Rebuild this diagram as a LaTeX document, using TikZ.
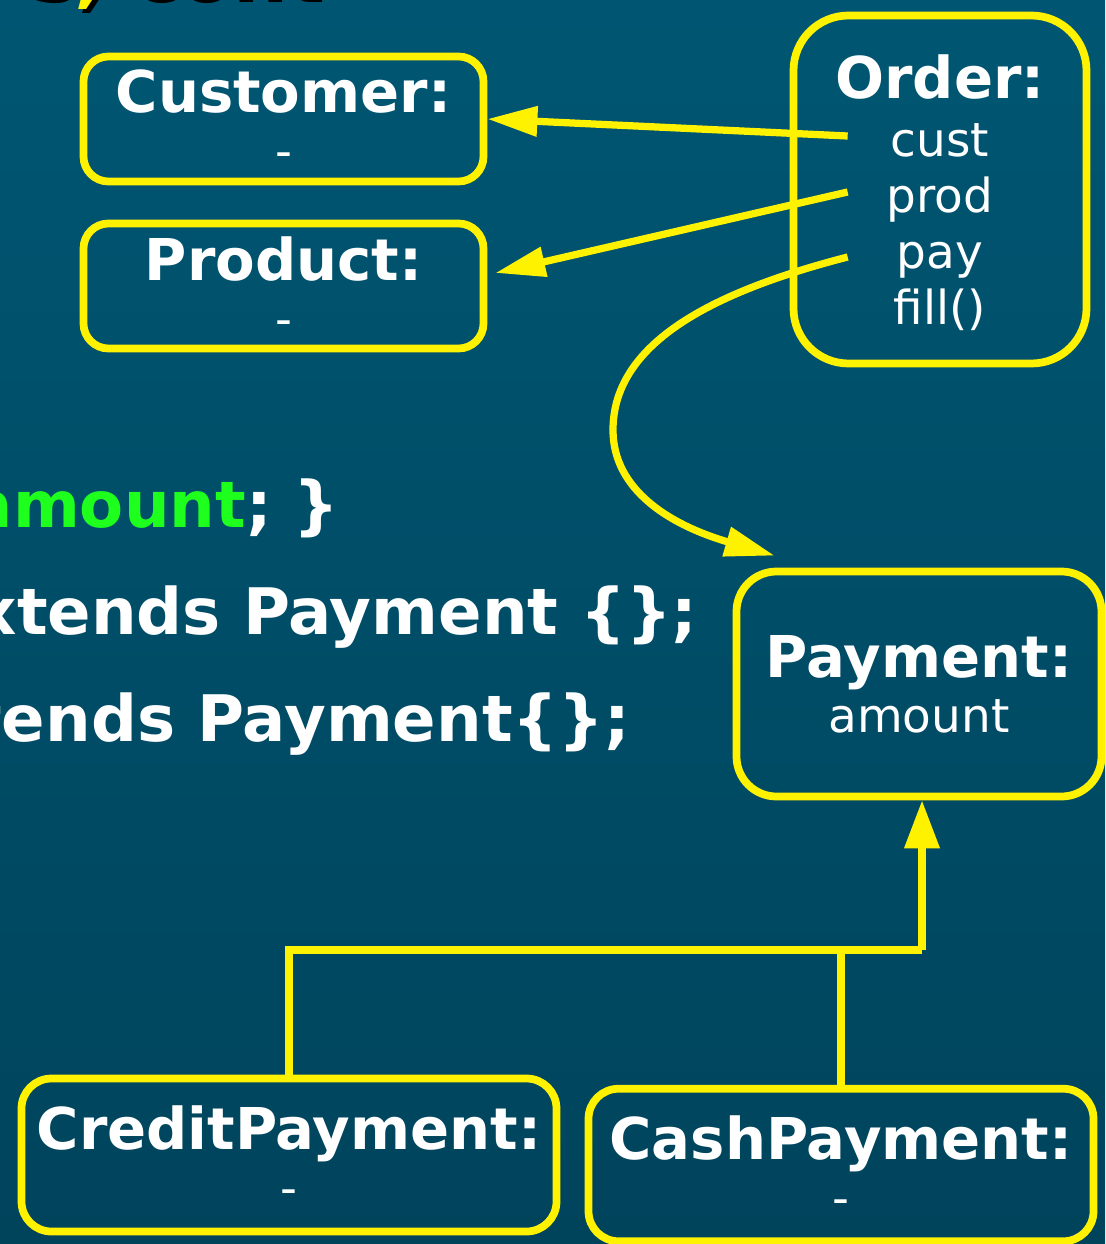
\documentclass[tikz,border=0pt]{standalone}
\usepackage{fontspec}
\setmainfont{DejaVu Sans}
\usetikzlibrary{arrows.meta,positioning}
\definecolor{slidebg}{RGB}{0,86,114}
\definecolor{slidebgdark}{RGB}{0,68,92}
\definecolor{codegreen}{RGB}{30,255,30}
\newcommand{\clsname}[1]{{\bfseries\fontsize{32.8}{31.3}\selectfont #1}}
\tikzset{
  clsbox/.style={draw=yellow, line width=0.155cm, rounded corners=0.5cm, text=white, align=center, inner sep=0pt, font=\fontsize{26.7}{31.3}\selectfont},
  field/.style={text=white, anchor=base, inner sep=0pt, minimum width=3.68cm, text height=0.8cm, text depth=0pt, font=\fontsize{26.7}{31.3}\selectfont},
  codeline/.style={text=white, anchor=base east, inner sep=0pt, font=\bfseries\fontsize{36.5}{40}\selectfont},
  slidetitle/.style={anchor=base west, inner sep=0pt, font=\bfseries\fontsize{44}{48}\selectfont},
  link/.style={draw=yellow, line width=0.145cm},
  arrow/.style={link, -{Triangle[length=1cm, width=0.58cm]}},
  isarrow/.style={link, -{Triangle[length=0.96cm, width=0.68cm]}}
}

\begin{document}
\begin{tikzpicture}
  \useasboundingbox (0,0) rectangle (22.1,-24.88);
  \clip (0,0) rectangle (22.1,-24.88);
  \shade[top color=slidebg, bottom color=slidebgdark] (0,0) rectangle (22.1,-24.88);

  % slide title, cut off at the top
  \node[slidetitle, text=black] (titleshadow) at (0.64,-0.05) {s, cont};
  \node[slidetitle, text=yellow] (title) at (0.56,0.03) {s, cont};

  % code behind the diagram
  \node[codeline] (code1) at (6.8,-10.54) {\textcolor{codegreen}{amount}; \}};
  \node[codeline] (code2) at (13.96,-12.68) {extends Payment \{\};};
  \node[codeline] (code3) at (12.6,-14.82) {extends Payment\{\};};

  % objects
  \node[clsbox, minimum width=8cm, minimum height=2.5cm] (customer) at (5.67,-2.38) {\clsname{Customer:}\\-};
  \node[clsbox, minimum width=8cm, minimum height=2.5cm] (product) at (5.67,-5.72) {\clsname{Product:}\\-};
  \node[clsbox, rounded corners=1.1cm, minimum width=5.86cm, minimum height=6.96cm] (order) at (18.8,-3.79) {};
  \node[anchor=base, text=white, inner sep=0pt] (ordername) at (18.8,-1.96) {\clsname{Order:}};
  \node[field] (cust) at (18.8,-3.12) {cust};
  \node[field] (prod) at (18.8,-4.24) {prod};
  \node[field] (pay) at (18.8,-5.36) {pay};
  \node[field] (fill) at (18.8,-6.48) {fill()};
  \node[clsbox, rounded corners=0.8cm, minimum width=7.3cm, minimum height=4.5cm] (payment) at (18.38,-13.68) {\clsname{Payment:}\\amount};
  \node[clsbox, rounded corners=0.6cm, minimum width=10.7cm, minimum height=3.06cm] (credit) at (5.78,-23.1) {\clsname{CreditPayment:}\\-};
  \node[clsbox, rounded corners=0.6cm, minimum width=10.1cm, minimum height=3.05cm] (cash) at (16.82,-23.3) {\clsname{CashPayment:}\\-};

  % references
  \draw[arrow] (cust.west) -- (customer.east);
  \draw[arrow] (prod.west) -- ([xshift=0.16cm,yshift=0.26cm]product.east);
  \draw[arrow] ([yshift=-0.18cm]pay.west) .. controls (14.4,-5.8) and (12.26,-6.8) .. (12.26,-8.6)
    .. controls (12.26,-9.8) and (13.4,-10.5) .. ([xshift=0.84cm,yshift=0.24cm]payment.north west);

  % inheritance
  \coordinate (joint) at (18.44,-19);
  \draw[link] (credit.north) |- (joint);
  \draw[link] (cash.north) -- (cash.north |- joint);
  \draw[isarrow] (joint) -- (joint |- payment.south);
\end{tikzpicture}
\end{document}
